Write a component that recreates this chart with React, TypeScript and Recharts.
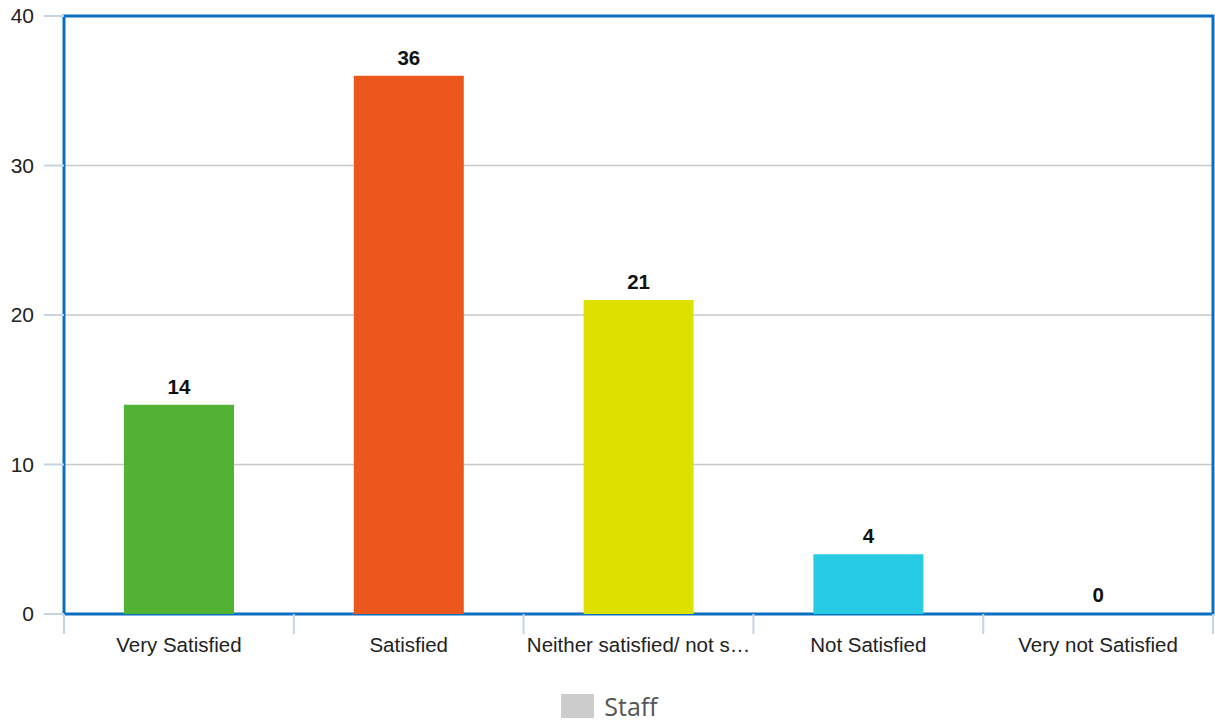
import React from "react";
import {
  BarChart,
  Bar,
  XAxis,
  YAxis,
  CartesianGrid,
  Legend,
  LabelList,
  Cell,
  ReferenceArea,
} from "recharts";

const categories = [
  "Very Satisfied",
  "Satisfied",
  "Neither satisfied/ not satisfied",
  "Not Satisfied",
  "Very not Satisfied",
];
const staff = [14, 36, 21, 4, 0];
const barColors = ["#52b234", "#eb571d", "#dee000", "#27cbe4", "#0b6fc0"];
const yTicks = [0, 10, 20, 30, 40];

const data = categories.map((name, i) => ({ name, staff: staff[i] }));

const CHART_W = 1215;
const CHART_H = 725;
const Y_AXIS_W = 64;
const MARGIN = { top: 16, right: 2, left: 0, bottom: 6 };
const BAND = (CHART_W - Y_AXIS_W - MARGIN.left - MARGIN.right) / categories.length;
const FONT = "Liberation Sans, Arial, sans-serif";

const shorten = (s: string) => (s.length > 24 ? s.slice(0, 24) + "…" : s);

// category label centred in its band, with separators on the band edges
const XTick = (props: any) => {
  const { x, y, payload, index } = props;
  const half = BAND / 2;
  return (
    <g>
      <line x1={x - half} x2={x - half} y1={y} y2={y + 20} stroke="#c5d3e2" strokeWidth={2} />
      {index === categories.length - 1 && (
        <line x1={x + half} x2={x + half} y1={y} y2={y + 20} stroke="#c5d3e2" strokeWidth={2} />
      )}
      <text x={x} y={y + 38} textAnchor="middle" fill="#222" fontSize={20.5} fontFamily={FONT}>
        {shorten(payload.value)}
      </text>
    </g>
  );
};

// value above each bar
const ValueLabel = (props: any) => {
  const { x, y, width, value } = props;
  return (
    <text
      x={Number(x) + Number(width) / 2}
      y={Number(y) - 11}
      textAnchor="middle"
      fill="#111"
      fontSize={20.5}
      fontWeight="bold"
      fontFamily={FONT}
    >
      {value}
    </text>
  );
};

const StaffLegend = () => (
  <div
    style={{
      height: 45,
      display: "flex",
      justifyContent: "center",
      alignItems: "flex-end",
    }}
  >
    <div style={{ display: "flex", alignItems: "center", marginBottom: 1, marginLeft: 6 }}>
      <span style={{ width: 33, height: 24, background: "#cccccc", display: "inline-block" }} />
      <span
        style={{
          marginLeft: 10,
          fontSize: 25,
          color: "#555",
          fontFamily: "Open Sans, sans-serif",
          lineHeight: "24px",
        }}
      >
        Staff
      </span>
    </div>
  </div>
);

export default function App() {
  return (
    <div style={{ position: "absolute", left: 0, top: 0, width: CHART_W, height: CHART_H, background: "#fff" }}>
      <BarChart width={CHART_W} height={CHART_H} data={data} margin={MARGIN}>
        <CartesianGrid vertical={false} stroke="#c8c8c8" strokeWidth={1.5} />
        <XAxis
          dataKey="name"
          axisLine={false}
          tickLine={false}
          tickSize={0}
          tickMargin={0}
          height={60}
          interval={0}
          tick={<XTick />}
        />
        <YAxis
          width={Y_AXIS_W}
          domain={[0, 40]}
          ticks={yTicks}
          axisLine={false}
          tickSize={20}
          tickMargin={10}
          tickLine={{ stroke: "#c5d3e2", strokeWidth: 2 }}
          tick={{ fill: "#222", fontSize: 21, fontFamily: FONT }}
        />
        <Legend verticalAlign="bottom" height={45} content={<StaffLegend />} />
        {/* minPointSize keeps the zero bar (and its label) alive; the frame hides the sliver */}
        <Bar dataKey="staff" barSize={110} minPointSize={1} isAnimationActive={false}>
          {data.map((d, i) => (
            <Cell key={d.name} fill={barColors[i]} />
          ))}
          <LabelList dataKey="staff" content={<ValueLabel />} />
        </Bar>
        <ReferenceArea y1={0} y2={40} fill="none" stroke="#0b6fc0" strokeWidth={3} fillOpacity={0} />
      </BarChart>
    </div>
  );
}
